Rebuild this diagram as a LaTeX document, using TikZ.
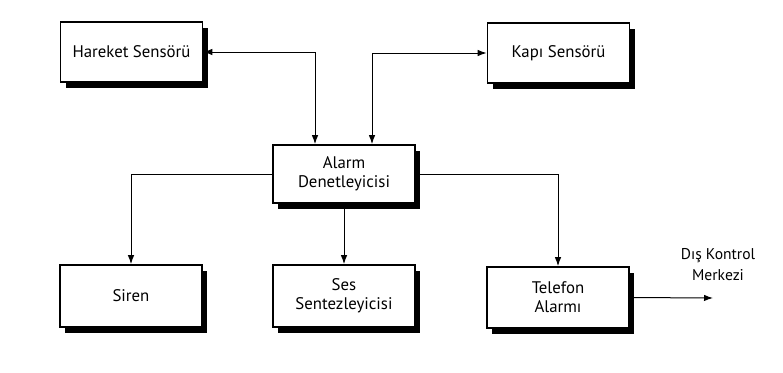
\documentclass[tikz,border=0pt]{standalone}
\usepackage{fontspec}
\setmainfont{PT Sans}
\usetikzlibrary{arrows.meta,shadows}
\begin{document}
\begin{tikzpicture}[x=1pt,y=-1pt,
  blk/.style={draw=black,line width=1.7pt,fill=white,minimum width=142pt,minimum height=60pt,
    align=center,font=\fontsize{16.8}{19}\selectfont,inner sep=2pt,
    drop shadow={shadow xshift=5pt,shadow yshift=-6pt,fill=black,opacity=1}},
  conn/.style={draw=black,line width=1pt},
  tip/.style={-{Latex[length=9pt,width=6.5pt]}}]
\useasboundingbox (0,0) rectangle (783,372);
\node[blk] (h) at (131.5,52) {Hareket Sensörü};
\node[blk] (k) at (558.5,53) {Kapı Sensörü};
\node[blk,minimum height=58pt] (a) at (344,174) {Alarm\\Denetleyicisi};
\node[blk,minimum height=62pt] (s) at (131,296) {Siren};
\node[blk,minimum height=62pt] (ses) at (344,296) {Ses\\Sentezleyicisi};
\node[blk,minimum height=61pt] (t) at (558,297.5) {Telefon\\Alarmı};
\coordinate (ext) at (713,298);
\node[font=\fontsize{15.6}{21}\selectfont,align=center] (lbl) at (718,265) {Dış Kontrol\\Merkezi};
\draw[conn,{Latex[length=9pt,width=6.5pt]}-{Latex[length=9pt,width=6.5pt]}] (h.east) -| ([xshift=-29pt]a.north);
\draw[conn,{Latex[length=9pt,width=6.5pt]}-{Latex[length=9pt,width=6.5pt]}] ([xshift=28pt]a.north) |- (k.west);
\draw[conn,tip] (a.west) -| (s.north);
\draw[conn,tip] (a.south) -- (ses.north);
\draw[conn,tip] (a.east) -| (t.north);
\draw[conn,tip] (t.east) -- (ext);
\end{tikzpicture}
\end{document}
